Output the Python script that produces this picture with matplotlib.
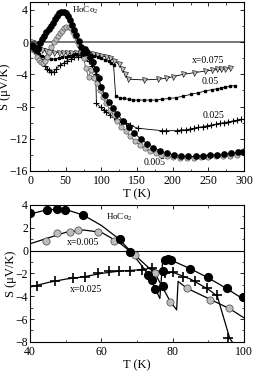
import matplotlib
matplotlib.use('Agg')
import matplotlib.pyplot as plt
from matplotlib.ticker import MultipleLocator

plt.rcParams['font.family'] = ['Liberation Serif', 'DejaVu Serif']
plt.rcParams['mathtext.fontset'] = 'custom'
plt.rcParams['mathtext.rm'] = 'Liberation Serif'
plt.rcParams['mathtext.it'] = 'Liberation Serif:italic'

# ---- top panel: full temperature range ----
T_ho = [3, 5, 7, 9, 11, 14, 17, 20, 23, 26, 29, 32, 35, 38, 41, 44, 47, 50, 53, 56,
        59, 62, 65, 68, 71, 74, 77, 80, 84, 88, 92, 96, 100, 105, 110, 116, 122, 130,
        138, 146, 155, 164, 173, 182, 192, 202, 212, 222, 232, 242, 252, 262, 272,
        282, 292, 298]
S_ho = [-0.3, -0.6, -0.9, -1.0, -0.7, -0.1, 0.4, 0.8, 1.2, 1.6, 2.0, 2.4, 2.9, 3.3,
        3.6, 3.7, 3.75, 3.6, 3.2, 2.7, 2.1, 1.5, 0.9, 0.2, -0.6, -1.4, -0.8, -1.2,
        -1.8, -2.5, -3.4, -4.5, -5.6, -6.6, -7.4, -8.2, -8.9, -9.8, -10.6, -11.3,
        -12.0, -12.6, -13.1, -13.5, -13.8, -14.0, -14.1, -14.2, -14.2, -14.1, -14.0,
        -14.0, -13.9, -13.8, -13.7, -13.6]

T_005 = [3, 6, 9, 12, 15, 18, 21, 24, 27, 30, 33, 36, 39, 42, 45, 48, 51, 54, 57, 60,
         63, 66, 69, 72, 75, 78, 82, 86, 90, 94, 98, 102, 107, 112, 117, 122, 128, 134,
         140, 147, 154, 161, 168, 176, 184, 192, 200, 210, 220, 230, 240, 250, 260,
         270, 280, 290, 298]
S_005 = [-0.2, -1.0, -1.8, -2.2, -2.5, -2.6, -2.4, -1.9, -1.2, -0.6, 0.0, 0.4, 0.8,
         1.1, 1.4, 1.7, 1.9, 1.9, 1.7, 1.3, 0.8, 0.2, -0.4, -1.2, -2.0, -3.2, -4.3,
         -3.5, -4.4, -5.1, -6.0, -6.8, -7.6, -8.4, -9.1, -9.8, -10.5, -11.1, -11.7,
         -12.3, -12.8, -13.2, -13.5, -13.8, -14.0, -14.2, -14.3, -14.4, -14.4, -14.4,
         -14.3, -14.3, -14.2, -14.2, -14.1, -14.0, -13.5]

T_025 = [3, 6, 9, 12, 15, 18, 21, 24, 27, 30, 33, 37, 42, 47, 52, 57, 62, 67, 72, 77,
         82, 87, 92, 93, 99, 103, 107, 112, 117, 122, 128, 134, 140, 151, 185, 190,
         206, 212, 218, 224, 230, 236, 242, 248, 254, 260, 266, 272, 278, 284, 290, 296]
S_025 = [-0.8, -1.1, -1.4, -1.7, -2.1, -2.6, -3.0, -3.3, -3.5, -3.7, -3.7, -3.3, -2.9,
         -2.6, -2.3, -2.1, -1.9, -1.8, -1.6, -2.0, -2.4, -3.0, -3.9, -7.6, -8.1, -8.4,
         -8.7, -9.0, -9.3, -9.5, -9.9, -10.1, -10.3, -10.7, -11.0, -11.0, -11.0, -10.9,
         -10.9, -10.8, -10.7, -10.6, -10.5, -10.4, -10.3, -10.2, -10.1, -10.0, -9.9,
         -9.8, -9.7, -9.6]

T_050 = [3, 6, 9, 13, 17, 21, 25, 30, 35, 40, 45, 50, 55, 60, 65, 70, 75, 80, 85, 90,
         95, 100, 105, 110, 114, 117, 120, 126, 132, 138, 145, 152, 160, 168, 176, 185,
         195, 205, 215, 225, 235, 245, 255, 262, 268, 274, 280, 287]
S_050 = [-0.6, -0.9, -1.2, -1.5, -1.7, -1.9, -2.0, -2.1, -2.1, -2.0, -1.9, -1.8, -1.7,
         -1.6, -1.5, -1.5, -1.4, -1.5, -1.6, -1.7, -1.8, -2.0, -2.2, -2.4, -2.6, -2.8,
         -6.7, -6.9, -7.0, -7.1, -7.2, -7.2, -7.2, -7.2, -7.2, -7.1, -7.0, -6.9, -6.7,
         -6.5, -6.3, -6.1, -5.9, -5.8, -5.7, -5.6, -5.5, -5.4]

T_075 = [3, 6, 9, 13, 17, 22, 28, 34, 40, 46, 52, 58, 64, 70, 76, 82, 88, 94, 100, 106,
         112, 118, 124, 129, 133, 137, 160, 180, 190, 200, 215, 230, 245, 255, 262, 268,
         274, 280]
S_075 = [0.0, -0.2, -0.5, -0.8, -1.0, -1.1, -1.2, -1.3, -1.3, -1.3, -1.4, -1.4, -1.4,
         -1.4, -1.5, -1.5, -1.5, -1.6, -1.7, -1.8, -2.0, -2.3, -2.7, -3.3, -4.0, -4.6,
         -4.7, -4.6, -4.5, -4.3, -4.0, -3.8, -3.6, -3.5, -3.4, -3.4, -3.3, -3.2]

# ---- bottom panel: 40-100 K zoom (markers + fitted guide lines) ----
Tb_ho = [40, 44.7, 47.5, 49.8, 54.9, 65.2, 68, 73.2, 74.1, 75, 77.4, 77.4, 77.8, 78.7,
         79.6, 84.9, 90, 95.1, 99.8]
Sb_ho = [3.3, 3.6, 3.65, 3.6, 3.1, 1.0, -0.1, -2.1, -2.6, -3.4, -3.1, -1.8, -0.8,
         -0.75, -0.85, -1.6, -2.3, -3.3, -4.1]
Tl_ho = [40, 45, 50, 55, 60, 65, 68, 72, 74, 76.4, 77.2, 80, 85, 90, 95, 100]
Sl_ho = [3.2, 3.6, 3.6, 3.1, 2.2, 1.0, 0.0, -1.6, -2.6, -4.2, -0.8, -0.9, -1.6, -2.4,
         -3.3, -4.3]

Tb_005 = [44.4, 47.5, 51.2, 53.4, 59, 63.6, 69.4, 75, 79.2, 83.9, 90.5, 95.9]
Sb_005 = [0.87, 1.5, 1.66, 1.8, 1.6, 0.87, -0.4, -2.0, -4.5, -3.3, -4.3, -5.0]
Tl_005 = [40, 45, 50, 55, 60, 65, 69.4, 75, 79.2, 81.1, 81.5, 84, 90, 96, 100]
Sl_005 = [0.6, 1.1, 1.6, 1.8, 1.6, 0.7, -0.4, -2.0, -4.4, -5.2, -2.7, -3.3, -4.2, -5.1,
          -5.9]

Tb_025 = [42, 47, 52, 55.5, 59, 62, 65, 68, 71.3, 74.1, 77.8, 80.2, 83, 86.3, 89.5,
          92.3, 95.6]
Sb_025 = [-3.1, -2.7, -2.4, -2.3, -2.0, -1.8, -1.8, -1.8, -1.7, -1.55, -2.0, -1.9,
          -2.3, -2.7, -3.3, -3.9, -7.7]
Tl_025 = [40, 45, 50, 55, 60, 65, 70, 74, 77.5, 80, 85, 90, 92.5, 96, 98]
Sl_025 = [-3.2, -2.8, -2.5, -2.3, -2.0, -1.8, -1.7, -1.55, -2.0, -1.9, -2.5, -3.4,
          -4.0, -7.7, -8.6]

gray = '#bdbdbd'

fig = plt.figure(figsize=(2.55, 3.74), dpi=100)
ax1 = fig.add_axes([0.118, 0.543, 0.839, 0.452])
ax2 = fig.add_axes([0.118, 0.086, 0.839, 0.366])

# top
ax1.axhline(0, color='#777777', lw=1.4, zorder=1)
ax1.plot(T_075, S_075, '-v', color='k', lw=0.6, mfc=gray, mec='k', mew=0.4, ms=3.6, zorder=3)
ax1.plot(T_050, S_050, '-s', color='k', lw=0.6, mfc='k', mec='k', ms=1.6, zorder=3)
ax1.plot(T_025, S_025, '-+', color='k', lw=0.6, mec='k', mew=0.8, ms=5, zorder=3)
ax1.plot(T_005, S_005, '-o', color='#555555', lw=0.6, mfc=gray, mec='#444444', mew=0.4, ms=3.8, zorder=4)
ax1.plot(T_ho, S_ho, '-o', color='k', lw=0.6, mfc='k', mec='k', ms=3.8, zorder=5)

ax1.set_xlim(0, 300)
ax1.set_ylim(-16, 5)
ax1.xaxis.set_major_locator(MultipleLocator(50))
ax1.xaxis.set_minor_locator(MultipleLocator(25))
ax1.yaxis.set_major_locator(MultipleLocator(4))
ax1.yaxis.set_minor_locator(MultipleLocator(2))
ax1.set_xlabel('T (K)', fontsize=9, labelpad=1)
ax1.set_ylabel('S (\u03bcV/K)', fontsize=9, labelpad=-1)

ax1.text(59, 3.9, 'HoCo$_2$', fontsize=6.5, ha='left', va='center')
ax1.text(250, -2.3, 'x=0.075', fontsize=7, ha='center', va='center')
ax1.text(252, -4.9, '0.05', fontsize=7, ha='center', va='center')
ax1.text(257, -9.1, '0.025', fontsize=7, ha='center', va='center')
ax1.text(174, -15.0, '0.005', fontsize=7, ha='center', va='center')

# bottom
ax2.axhline(0, color='k', lw=0.8, zorder=1)
ax2.plot(Tl_025, Sl_025, '-', color='k', lw=0.9, zorder=2)
ax2.plot(Tb_025, Sb_025, '+', mec='k', mew=1.2, ms=7, zorder=3)
ax2.plot(Tl_005, Sl_005, '-', color='k', lw=0.9, zorder=2)
ax2.plot(Tb_005, Sb_005, 'o', mfc=gray, mec='#444444', mew=0.5, ms=5.2, zorder=4)
ax2.plot(Tl_ho, Sl_ho, '-', color='k', lw=0.9, zorder=2)
ax2.plot(Tb_ho, Sb_ho, 'o', mfc='k', mec='k', ms=5.6, zorder=5)

ax2.set_xlim(40, 100)
ax2.set_ylim(-8, 4)
ax2.xaxis.set_major_locator(MultipleLocator(20))
ax2.xaxis.set_minor_locator(MultipleLocator(10))
ax2.yaxis.set_major_locator(MultipleLocator(2))
ax2.yaxis.set_minor_locator(MultipleLocator(1))
ax2.set_xlabel('T (K)', fontsize=9, labelpad=1)
ax2.set_ylabel('S (\u03bcV/K)', fontsize=9, labelpad=-1)

ax2.text(61.3, 2.9, 'HoCo$_2$', fontsize=6.5, ha='left', va='center')
ax2.text(50.3, 0.75, 'x=0.005', fontsize=7, ha='left', va='center')
ax2.text(51.2, -3.45, 'x=0.025', fontsize=7, ha='left', va='center')

for ax in (ax1, ax2):
    ax.tick_params(which='both', direction='in', top=True, right=True, labelsize=8.5)
    ax.tick_params(axis='y', pad=1.5)
    ax.tick_params(axis='x', pad=3)
    ax.tick_params(which='major', length=3, width=0.6)
    ax.tick_params(which='minor', length=1.8, width=0.5)
    for sp in ax.spines.values():
        sp.set_linewidth(0.8)

fig.savefig('out.png', dpi=100)
